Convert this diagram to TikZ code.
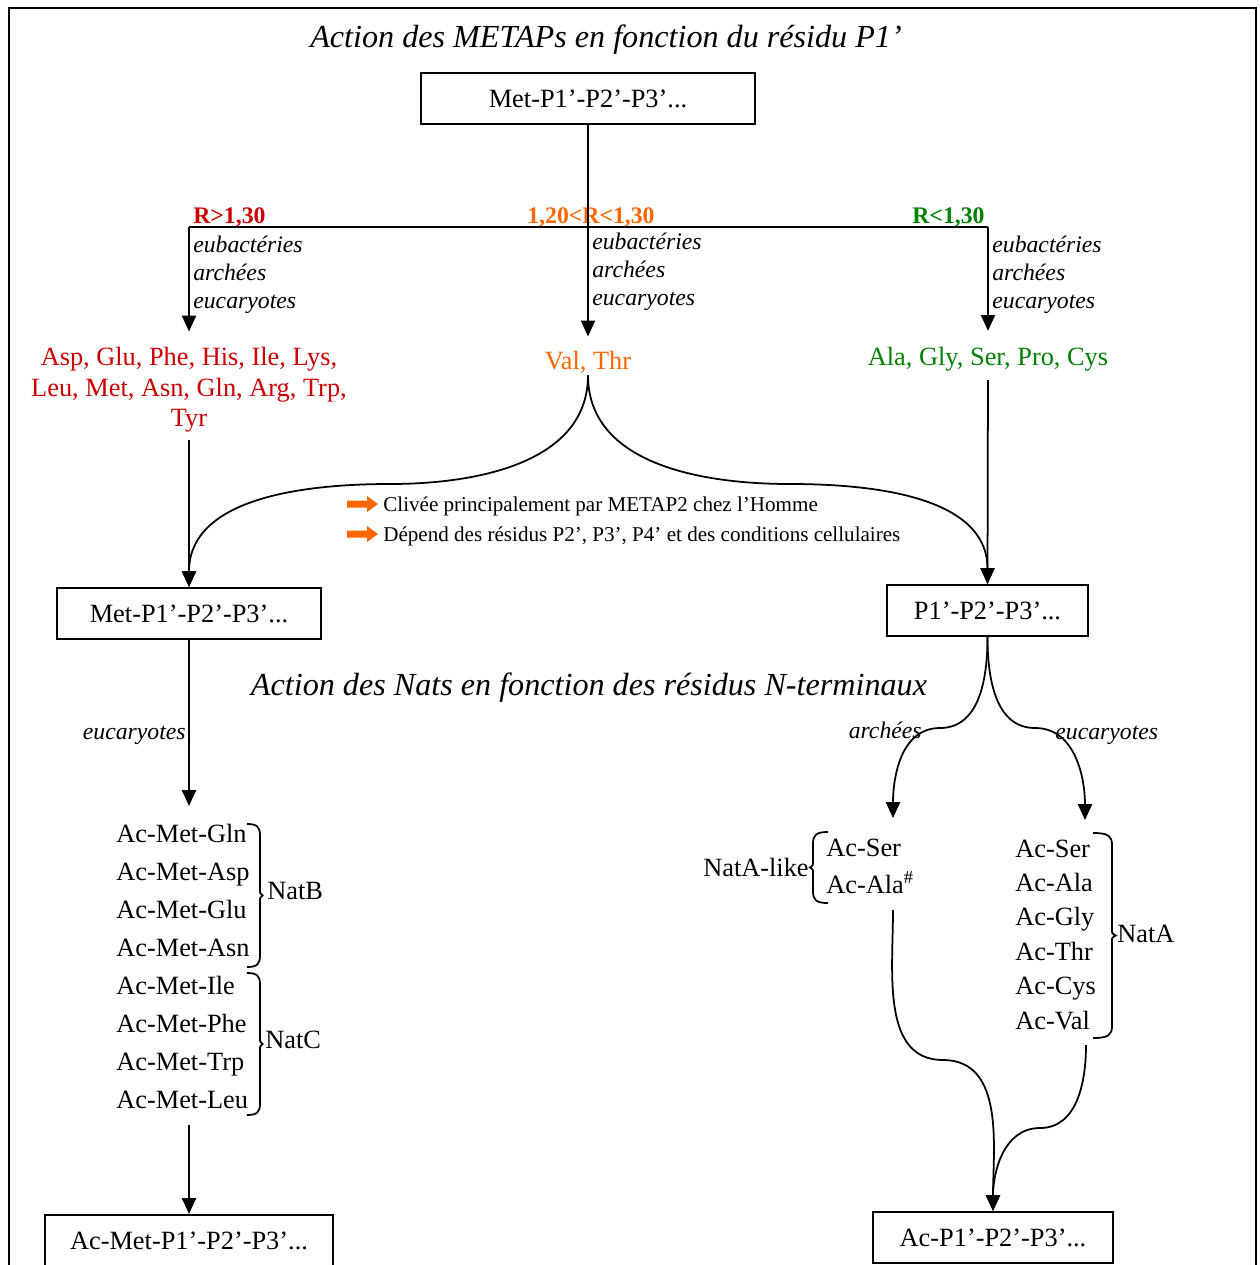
\documentclass[tikz,border=0pt]{standalone}
\usepackage{fontspec}
\setmainfont{Liberation Serif}
\usetikzlibrary{arrows.meta,decorations.pathreplacing,positioning,calc}
\usepackage{xcolor}
\definecolor{rouge}{RGB}{204,0,0}
\definecolor{orangeV}{RGB}{255,102,0}
\definecolor{vert}{RGB}{0,128,0}

% accolade : x des bouts, y haut, y bas, ecart (signe = sens)
\newcommand{\accolade}[4]{%
  \pgfmathsetmacro{\accmid}{(#2+#3)/2}
  \draw[trait] (#1,#2) .. controls (#1+0.8*#4,#2) and (#1+#4,#2+3) .. (#1+#4,#2+12)
     -- (#1+#4,\accmid-6) .. controls (#1+#4,\accmid-2) .. (#1+1.2*#4,\accmid)
     .. controls (#1+#4,\accmid+2) .. (#1+#4,\accmid+6)
     -- (#1+#4,#3-12) .. controls (#1+#4,#3-3) and (#1+0.8*#4,#3) .. (#1,#3);}

\tikzset{
  trait/.style={line width=1pt},
  fleche/.style={trait, -{Triangle[length=9pt,width=8pt]}},
  boite/.style={draw, line width=1.2pt, minimum height=1.02cm, font=\fontsize{15}{18}\selectfont},
  texte/.style={inner sep=0pt, font=\fontsize{15}{18}\selectfont},
  titre/.style={inner sep=0pt, font=\fontsize{18.3}{21}\selectfont\itshape},
  orga/.style={inner sep=0pt, align=left, font=\fontsize{13.5}{15.9}\selectfont\itshape},
  seuil/.style={inner sep=0pt, anchor=base west, font=\fontsize{13.5}{16}\selectfont\bfseries},
  petit/.style={inner sep=0pt, font=\fontsize{12}{14}\selectfont}
}

\begin{document}
\begin{tikzpicture}[x=0.02cm, y=-0.02cm]
    \useasboundingbox (0,0) rectangle (1260,1265);
    \clip (0,0) rectangle (1260,1265);
    % Cadre
    \draw[trait] (9,8) rectangle (1256,1300);

    % METAPs
    \node[titre] (titreMetap) at (606,40) {Action des METAPs en fonction du résidu P1’};
    \node[boite, minimum width=6.68cm] (metDepart) at (588,98.5) {Met-P1’-P2’-P3’...};

    \coordinate (branchG) at (189,227);
    \coordinate (branchC) at (588,227);
    \coordinate (branchD) at (988,227);

    \node[seuil, text=rouge] (seuilG) at (193,223) {R>1,30};
    \node[seuil, text=orangeV] (seuilC) at (527,223) {1,20<R<1,30};
    \node[seuil, text=vert] (seuilD) at (912,223) {R<1,30};

    \node[orga, anchor=west] (orgaG) at (193,275) {eubactéries\\archées\\eucaryotes};
    \node[orga, anchor=west] (orgaC) at (592,272) {eubactéries\\archées\\eucaryotes};
    \node[orga, anchor=west] (orgaD) at (992,275) {eubactéries\\archées\\eucaryotes};

    \node[texte, text=rouge, align=center, font=\fontsize{15}{17.3}\selectfont] (resRouge) at (189,390)
        {Asp, Glu, Phe, His, Ile, Lys,\\Leu, Met, Asn, Gln, Arg, Trp,\\Tyr};
    \node[texte, text=orangeV] (resOrange) at (588,362) {Val, Thr};
    \node[texte, text=vert] (resVert) at (988,359) {Ala, Gly, Ser, Pro, Cys};

    \draw[trait] (branchG) -- (branchD);
    \draw[fleche, shorten >=8pt] (metDepart.south) -- (resOrange.north);
    \draw[fleche, shorten >=9pt] (branchG) -- (resRouge.north);
    \draw[fleche, shorten >=9pt] (branchD) -- (resVert.north);

    \node[boite, minimum width=5.28cm] (metGarde) at (189,613.5) {Met-P1’-P2’-P3’...};
    \node[boite, minimum width=4.02cm] (metOte) at (987.5,610.5) {P1’-P2’-P3’...};

    \draw[fleche, shorten <=4pt] (resRouge.south) -- (metGarde.north);
    \draw[fleche, shorten <=5pt] (resVert.south) -- (metOte.north);
    \draw[fleche, shorten <=1pt] (resOrange.south) to[out=-90,in=0] (390,484) to[out=180,in=90] (metGarde.north);
    \draw[fleche, shorten <=1pt] (resOrange.south) to[out=-90,in=180] (790,484) to[out=0,in=90] (metOte.north);

    % Remarques
    \foreach \y/\remarque [count=\i] in {506/{Clivée principalement par METAP2 chez l’Homme},
                                         536/{Dépend des résidus P2’, P3’, P4’ et des conditions cellulaires}} {
        \fill[orangeV] (347,\y-5.5) -- (367,\y-5.5) -- (367,\y-10) -- (378,\y-2) -- (367,\y+6) -- (367,\y+1.5) -- (347,\y+1.5) -- cycle;
        \node[petit, anchor=west] (remarque\i) at (383,\y) {\remarque};
    }

    % Nats
    \node[titre] (titreNat) at (589,688) {Action des Nats en fonction des résidus N-terminaux};

    % Branche gauche : NatB / NatC
    \coordinate (cibleNat) at (189,806);
    \coordinate (departNat) at (189,1125);
    \draw[fleche] (metGarde.south) -- (cibleNat);
    \node[orga, anchor=base east] (eucaG) at (186,739) {eucaryotes};

    \foreach \res [count=\i] in {Gln,Asp,Glu,Asn,Ile,Phe,Trp,Leu}
        \node[texte, anchor=base west] (acMet\i) at (116,804+38*\i) {Ac-Met-\res};
    \accolade{247}{824}{967}{13}
    \accolade{247}{973}{1115}{13}
    \node[texte, anchor=west] (natB) at (267,891) {NatB};
    \node[texte, anchor=west] (natC) at (265,1040) {NatC};

    \node[boite, minimum width=5.76cm, minimum height=1.04cm] (acMetFin) at (189,1241) {Ac-Met-P1’-P2’-P3’...};
    \draw[fleche] (departNat) -- (acMetFin.north);

    % Branche droite : NatA-like / NatA
    \coordinate (cibleArch) at (893,818);
    \coordinate (cibleEuc) at (1085,820);
    \draw[fleche] (metOte.south) to[out=-90,in=0] (940,728) to[out=180,in=90] (cibleArch);
    \draw[fleche] (metOte.south) to[out=-90,in=180] (1035,728) to[out=0,in=90] (cibleEuc);
    \node[orga, anchor=base east] (archD) at (922,738) {archées};
    \node[orga, anchor=base west] (eucaD) at (1055,739) {eucaryotes};

    \node[texte, anchor=base west] (likeSer) at (826,856) {Ac-Ser};
    \node[texte, anchor=base west] (likeAla) at (826,893) {Ac-Ala\textsuperscript{\#}};
    \accolade{828}{832}{903}{-15}
    \node[texte, anchor=east] (natAlike) at (809,867) {NatA-like};

    \foreach \res [count=\i] in {Ser,Ala,Gly,Thr,Cys,Val}
        \node[texte, anchor=base west] (acA\i) at (1015,822.6+34.4*\i) {Ac-\res};
    \accolade{1093}{833}{1038}{19}
    \node[texte, anchor=west] (natA) at (1117,934) {NatA};

    \node[boite, minimum width=4.8cm] (acFin) at (993,1237.5) {Ac-P1’-P2’-P3’...};
    \coordinate (departArch) at (893,910);
    \coordinate (departEuc) at (1086,1045);
    \draw[fleche] (departArch) to[out=-90,in=180] (943,1060) to[out=0,in=90] (acFin.north);
    \draw[fleche] (departEuc) to[out=-90,in=0] (1040,1128) to[out=180,in=90] (acFin.north);
\end{tikzpicture}
\end{document}
